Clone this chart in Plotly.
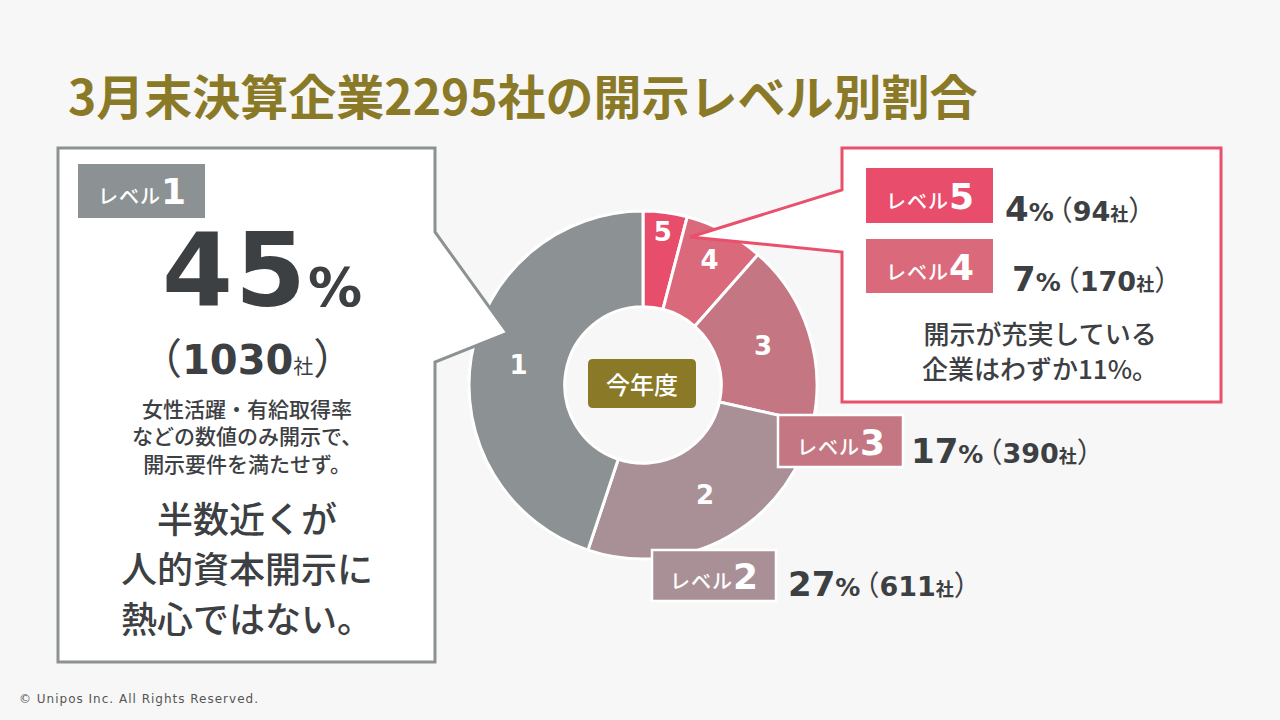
import plotly.graph_objects as go

# ---------------- data ----------------
levels = ["1", "2", "3", "4", "5"]
counts = [1030, 611, 390, 170, 94]
percents = [45, 27, 17, 7, 4]
level_colors = ["#8C9293", "#A99096", "#C47782", "#DA6A7B", "#E84D6B"]
title_text = "3月末決算企業2295社の開示レベル別割合"
center_label = "今年度"
level_word = "レベル"
unit_word = "社"
left_notes = ["女性活躍・有給取得率", "などの数値のみ開示で、", "開示要件を満たせず。"]
left_message = ["半数近くが", "人的資本開示に", "熱心ではない。"]
right_message = ["開示が充実している", "企業はわずか11%。"]
footer_text = "© Unipos Inc. All Rights Reserved."

# ---------------- style ----------------
W, H = 1280, 720
BG = "#F7F7F7"
DARK = "#3D4043"
OLIVE = "#8A7A28"
GRAY = "#8C9293"
PINK = "#E8506B"
JP = "Noto Sans CJK JP"
NUM = "DejaVu Sans"


def px(x):
    return x / W


def py(y):
    return 1 - y / H


# ---------------- donut ----------------
CX, CY, R = 643, 385, 174
fig = go.Figure(
    go.Pie(
        labels=levels[::-1],
        values=counts[::-1],
        sort=False,
        direction="clockwise",
        rotation=0,
        hole=0.45,
        marker=dict(colors=level_colors[::-1], line=dict(color="white", width=3)),
        textinfo="label",
        textposition="inside",
        insidetextorientation="horizontal",
        textfont=dict(family=NUM, size=26, color="white", weight="bold"),
        domain=dict(x=[px(CX - R), px(CX + R)], y=[py(CY + R), py(CY - R)]),
        hoverinfo="skip",
        showlegend=False,
    )
)

shapes = []
annotations = []


def path(points):
    return "M " + " L ".join(f"{px(x):.5f},{py(y):.5f}" for x, y in points) + " Z"


def rect(x0, y0, x1, y1, fill, line_color=None, line_width=0):
    shapes.append(
        dict(
            type="rect", xref="paper", yref="paper", layer="above",
            x0=px(x0), x1=px(x1), y0=py(y1), y1=py(y0),
            fillcolor=fill,
            line=dict(color=line_color or fill, width=line_width),
        )
    )


def ann(x, y, text, size=20, color=DARK, family=JP, xanchor="center",
        yanchor="middle", weight="normal"):
    annotations.append(
        dict(
            x=px(x), y=py(y), xref="paper", yref="paper", text=text,
            showarrow=False, xanchor=xanchor, yanchor=yanchor,
            font=dict(size=size, color=color, family=family, weight=weight),
            align="center",
        )
    )


def multiline(lines, size):
    return "<br>".join(f"<span style='font-size:{size}px'>{t}</span>" for t in lines)


# callout boxes with pointers
shapes.append(dict(
    type="path", xref="paper", yref="paper", layer="above",
    path=path([(58, 148), (435, 148), (435, 232), (508, 333), (435, 362),
               (435, 662), (58, 662)]),
    fillcolor="white", line=dict(color=GRAY, width=3)))
shapes.append(dict(
    type="path", xref="paper", yref="paper", layer="above",
    path=path([(842, 148), (1221, 148), (1221, 402), (842, 402), (842, 252),
               (690, 237), (842, 190)]),
    fillcolor="white", line=dict(color=PINK, width=3)))

# center label box (rounded)
bx0, by0, bx1, by1, rr = 588, 359, 696, 408, 5
rounded = (
    f"M {px(bx0+rr)},{py(by0)} L {px(bx1-rr)},{py(by0)} "
    f"Q {px(bx1)},{py(by0)} {px(bx1)},{py(by0+rr)} L {px(bx1)},{py(by1-rr)} "
    f"Q {px(bx1)},{py(by1)} {px(bx1-rr)},{py(by1)} L {px(bx0+rr)},{py(by1)} "
    f"Q {px(bx0)},{py(by1)} {px(bx0)},{py(by1-rr)} L {px(bx0)},{py(by0+rr)} "
    f"Q {px(bx0)},{py(by0)} {px(bx0+rr)},{py(by0)} Z"
)
shapes.append(dict(type="path", xref="paper", yref="paper", layer="above",
                   path=rounded, fillcolor=OLIVE, line=dict(color=OLIVE, width=0)))
ann(642, 383, center_label, size=24, color="white", weight=500)


def level_label(i):
    return (f"<span style='font-size:20px;letter-spacing:1px'>{level_word}</span>"
            f"<span style='font-family:{NUM};font-size:36px;font-weight:bold'>{levels[i]}</span>")


def value_label(i, big=34):
    return (f"<b><span style='font-size:{big}px'>{percents[i]}</span>"
            f"<span style='font-size:25px;letter-spacing:-9px'>%</span></b>"
            f"<span style='font-family:{JP};font-size:28px'>（</span>"
            f"<b><span style='font-size:27px'>{counts[i]}</span></b>"
            f"<span style='font-family:{JP};font-size:18px;font-weight:bold'>{unit_word}</span>"
            f"<span style='font-family:{JP};font-size:28px'>）</span>")


# label boxes: (index, x0, y0, x1, y1, white border?)
label_boxes = [
    (0, 78, 164, 205, 218, False),
    (4, 866, 168, 993, 223, False),
    (3, 866, 239, 993, 293, False),
    (2, 778, 415, 903, 467, True),
    (1, 652, 550, 776, 601, True),
]
for i, x0, y0, x1, y1, border in label_boxes:
    if border:
        rect(x0, y0, x1, y1, level_colors[i], "white", 2.5)
    else:
        rect(x0, y0, x1, y1, level_colors[i])
    ann((x0 + x1) / 2, (y0 + y1) / 2 + 1, level_label(i), size=20, color="white",
        weight=500)

# values next to label boxes: (index, x_left, y_center)
value_pos = [(4, 1003, 209), (3, 1010, 279), (2, 909, 451), (1, 786, 584)]
for i, x, y in value_pos:
    ann(x, y, value_label(i), size=27, color=DARK, family=NUM, xanchor="left")

# left box big numbers
ann(262, 270,
    f"<b><span style='font-size:102px;letter-spacing:2px'>{percents[0]}</span>"
    f"<span style='font-size:54px'>%</span></b>",
    size=102, family=NUM, color=DARK)
ann(247, 355,
    f"<span style='font-family:{JP};font-size:42px'>（</span>"
    f"<b><span style='font-size:40px'>{counts[0]}</span></b>"
    f"<span style='font-family:{JP};font-size:20px'>{unit_word}</span>"
    f"<span style='font-family:{JP};font-size:42px'>）</span>",
    size=40, family=NUM, color=DARK)

# multi-line texts (base size sets line spacing = 1.3 x base)
ann(247, 435, multiline(left_notes, 21), size=21, color=DARK, weight=500)
ann(247, 567, multiline(left_message, 36), size=38.5, color=DARK, weight=500)
ann(1040, 350, multiline(right_message, 26), size=27, color=DARK, weight=500)

# title and footer
ann(66, 94, title_text, size=48, color=OLIVE, xanchor="left", weight="bold")
ann(17, 699, f"<span style='letter-spacing:1px'>{footer_text}</span>",
    size=12, color="#555555", family=NUM, xanchor="left")

fig.update_layout(
    width=W, height=H,
    margin=dict(l=0, r=0, t=0, b=0, pad=0),
    paper_bgcolor=BG, plot_bgcolor=BG,
    shapes=shapes, annotations=annotations,
    showlegend=False,
)
fig.write_html("out.html")
